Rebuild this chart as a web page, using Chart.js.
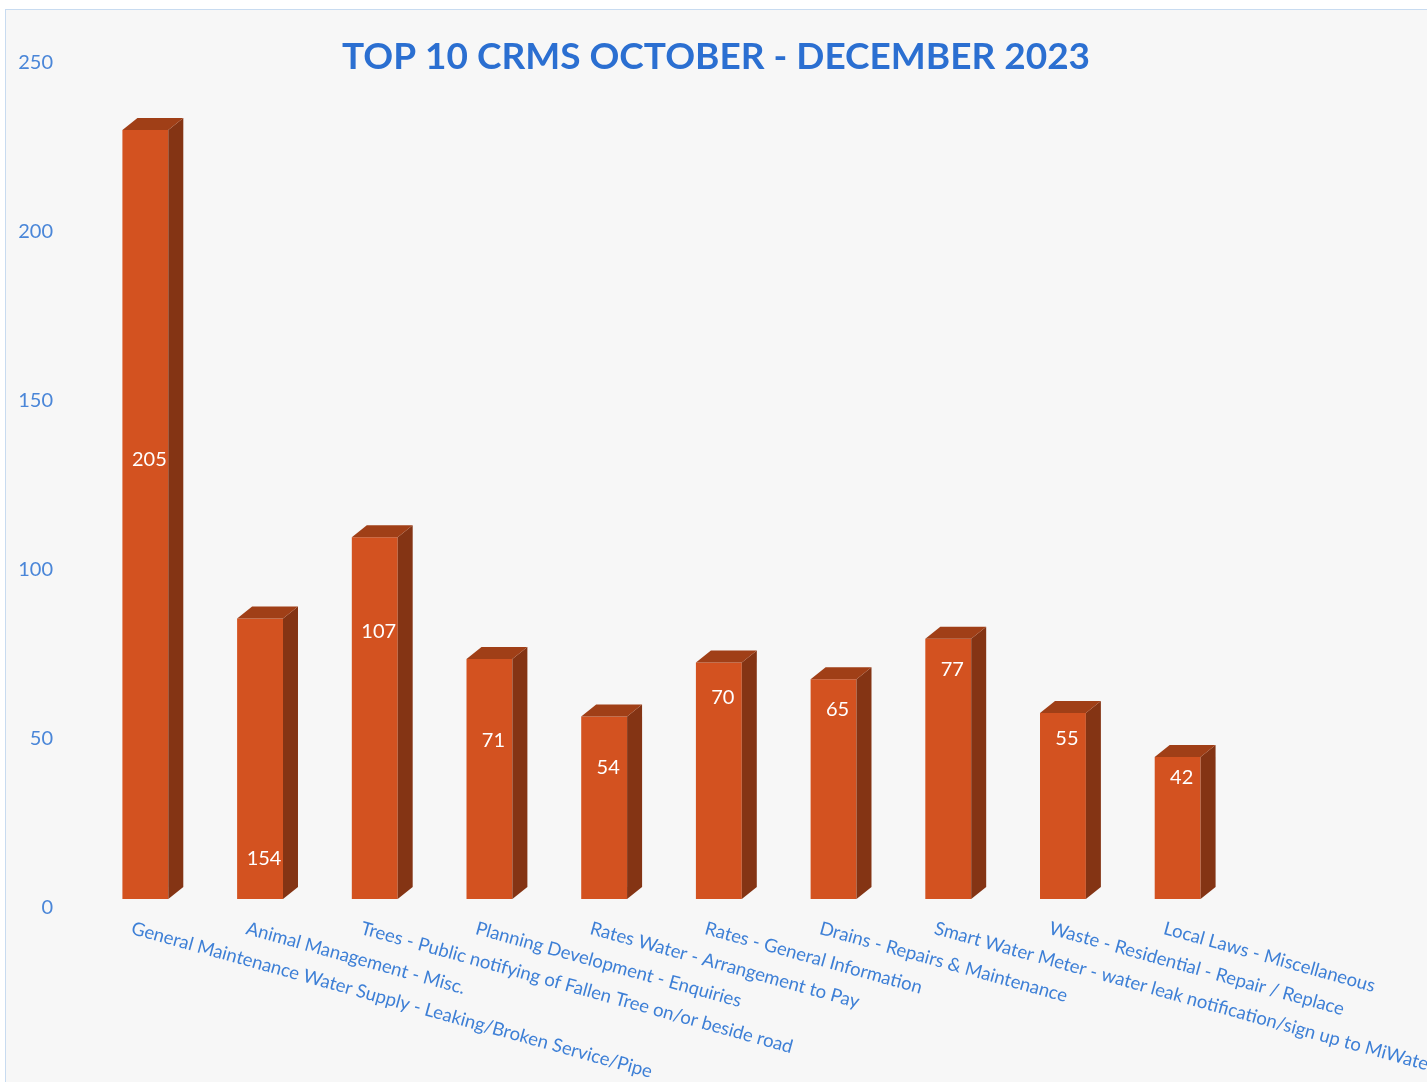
<!DOCTYPE html>
<html>
<head>
<meta charset="utf-8">
<script src="https://cdn.jsdelivr.net/npm/chart.js@4"></script>
<style>
body { margin: 0; background: #ffffff; }
</style>
</head>
<body>
<canvas id="crms" width="1427" height="1082"></canvas>
<script>
var categories = [
  "General Maintenance Water Supply - Leaking/Broken Service/Pipe",
  "Animal Management - Misc.",
  "Trees - Public notifying of Fallen Tree on/or beside road",
  "Planning Development - Enquiries",
  "Rates Water - Arrangement to Pay",
  "Rates - General Information",
  "Drains - Repairs & Maintenance",
  "Smart Water Meter - water leak notification/sign up to MiWater",
  "Waste - Residential - Repair / Replace",
  "Local Laws - Miscellaneous"
];
// bar heights as drawn in the picture
var barHeights = [227.5, 83, 107, 71, 54, 70, 65, 77, 55, 42];
// numbers printed on the bars, and where they sit (axis units)
var barLabels = ["205", "154", "107", "71", "54", "70", "65", "77", "55", "42"];
var labelAt = [130, 12, 79, 47, 39, 59.5, 56, 68, 47.5, 36];
var yTicks = [0, 50, 100, 150, 200, 250];

var blue = '#3d7fd6';
var depthX = 15, depthY = 12;

var frame = {
  id: 'frame',
  beforeDraw: function (chart) {
    var ctx = chart.ctx;
    ctx.save();
    ctx.fillStyle = '#f7f7f7';
    ctx.fillRect(5, 9, chart.width, chart.height);
    ctx.strokeStyle = '#c8dbf0';
    ctx.lineWidth = 1;
    ctx.strokeRect(5.5, 9.5, chart.width + 10, chart.height + 10);
    ctx.restore();
  }
};

var bars3d = {
  id: 'bars3d',
  afterDatasetsDraw: function (chart) {
    var ctx = chart.ctx;
    var meta = chart.getDatasetMeta(0);
    var y = chart.scales.y;
    ctx.save();
    meta.data.forEach(function (bar, i) {
      var left = bar.x - bar.width / 2, right = bar.x + bar.width / 2;
      // side
      ctx.fillStyle = '#843414';
      ctx.beginPath();
      ctx.moveTo(right, bar.y);
      ctx.lineTo(right + depthX, bar.y - depthY);
      ctx.lineTo(right + depthX, bar.base - depthY);
      ctx.lineTo(right, bar.base);
      ctx.closePath();
      ctx.fill();
      // top
      ctx.fillStyle = '#a03f17';
      ctx.beginPath();
      ctx.moveTo(left, bar.y);
      ctx.lineTo(left + depthX, bar.y - depthY);
      ctx.lineTo(right + depthX, bar.y - depthY);
      ctx.lineTo(right, bar.y);
      ctx.closePath();
      ctx.fill();
      // value label
      ctx.fillStyle = '#ffffff';
      ctx.font = '20px Lato, "Open Sans", sans-serif';
      ctx.textAlign = 'center';
      ctx.textBaseline = 'middle';
      ctx.fillText(barLabels[i], bar.x + 4, y.getPixelForValue(labelAt[i]));
    });
    ctx.restore();
  },
  afterDraw: function (chart) {
    var ctx = chart.ctx;
    var x = chart.scales.x;
    ctx.save();
    // title
    ctx.fillStyle = '#2b6fd1';
    ctx.font = 'bold 37px Lato, "Open Sans", sans-serif';
    ctx.textAlign = 'center';
    ctx.textBaseline = 'middle';
    ctx.fillText('TOP 10 CRMS OCTOBER - DECEMBER 2023', 716, 57);
    // slanted category labels
    ctx.fillStyle = blue;
    ctx.font = '18.5px Lato, "Open Sans", sans-serif';
    ctx.textAlign = 'left';
    ctx.textBaseline = 'top';
    categories.forEach(function (c, i) {
      ctx.save();
      ctx.translate(x.getPixelForTick(i) - 11, chart.chartArea.bottom + 20);
      ctx.rotate(15.5 * Math.PI / 180);
      ctx.fillText(c, 0, 0);
      ctx.restore();
    });
    ctx.restore();
  }
};

new Chart(document.getElementById('crms'), {
  type: 'bar',
  data: {
    labels: categories,
    datasets: [{
      data: barHeights,
      backgroundColor: '#d35220',
      barPercentage: 0.4,
      categoryPercentage: 1.0
    }]
  },
  options: {
    responsive: false,
    animation: false,
    layout: { padding: { left: 17, right: 192, top: 54, bottom: 0 } },
    plugins: {
      legend: { display: false },
      title: { display: false },
      tooltip: { enabled: false }
    },
    scales: {
      x: {
        grid: { display: false },
        border: { display: false },
        ticks: { display: false },
        afterFit: function (s) { s.height = 183; }
      },
      y: {
        min: yTicks[0],
        max: yTicks[yTicks.length - 1],
        grid: { display: false, drawTicks: false },
        border: { display: false },
        afterBuildTicks: function (s) { s.ticks = yTicks.map(function (v) { return { value: v }; }); },
        afterFit: function (s) { s.width = 71; },
        ticks: {
          color: '#4a86d8',
          font: { size: 20, family: 'Lato, "Open Sans", sans-serif' },
          padding: 35,
          labelOffset: 9
        }
      }
    }
  },
  plugins: [frame, bars3d]
});
</script>
</body>
</html>
